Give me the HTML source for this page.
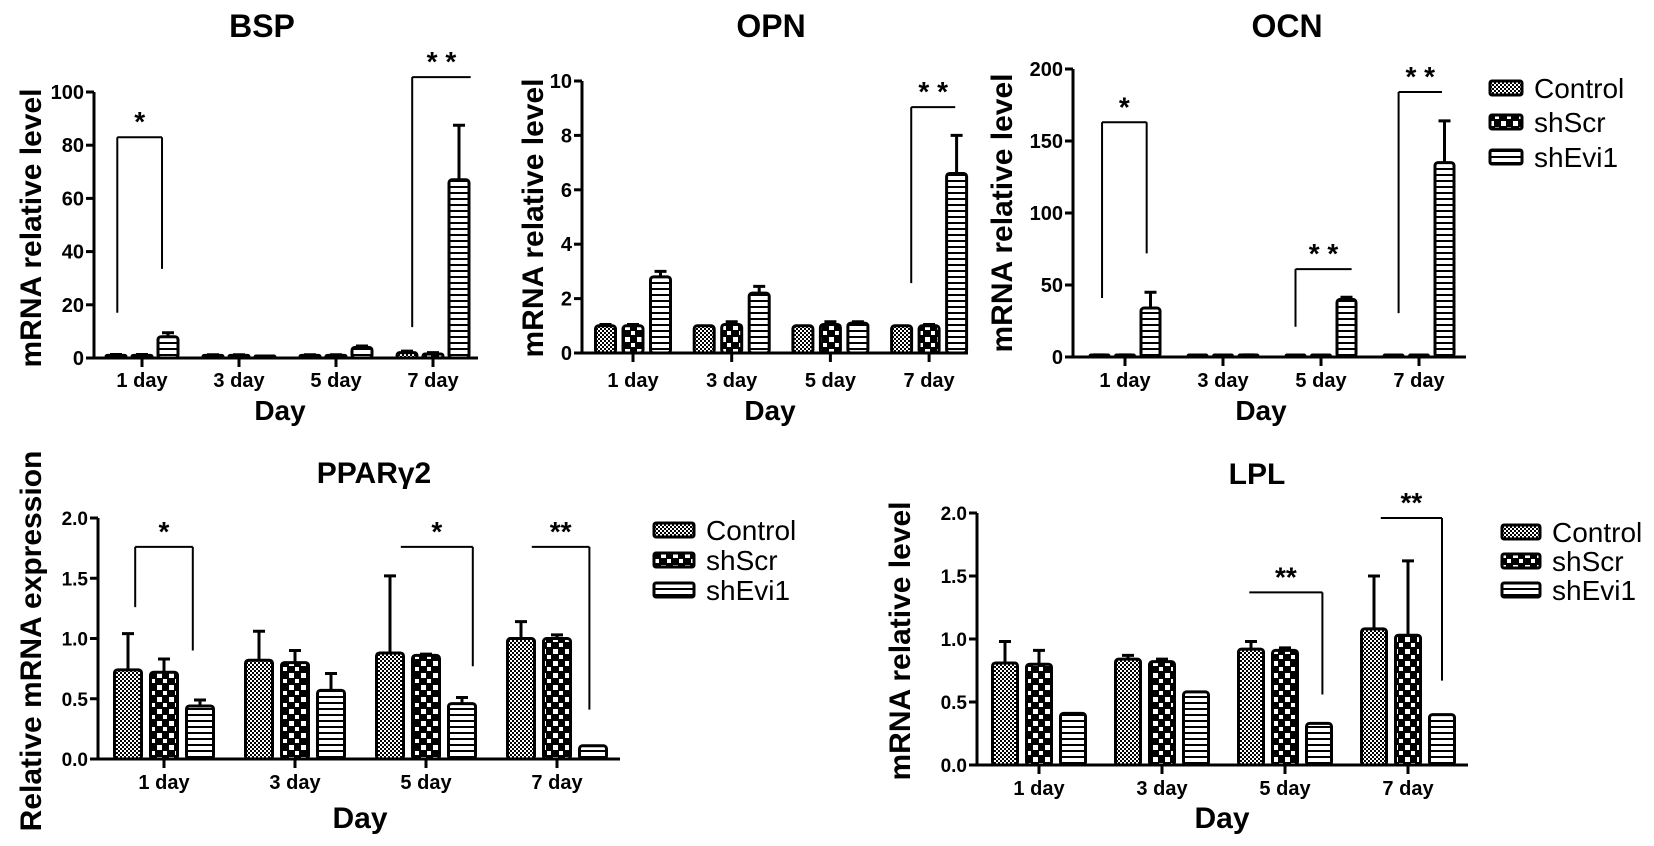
<!DOCTYPE html>
<html><head><meta charset="utf-8">
<style>
html,body{margin:0;padding:0;background:#fff;}
svg{display:block;font-family:"Liberation Sans",Arial,sans-serif;}
</style></head>
<body>
<svg id="fig" width="1654" height="846" viewBox="0 0 1654 846" xmlns="http://www.w3.org/2000/svg">
<defs>
<pattern id="pCtrl" width="4" height="4" patternUnits="userSpaceOnUse">
<rect width="4" height="4" fill="#fff"/><rect width="2" height="2" fill="#000"/><rect x="2" y="2" width="2" height="2" fill="#000"/>
</pattern>
<pattern id="pScr" width="12" height="12" patternUnits="userSpaceOnUse">
<rect width="12" height="12" fill="#000"/><rect x="1" y="1" width="5" height="5" fill="#fff"/><rect x="7" y="7" width="4" height="4" fill="#fff"/>
</pattern>
<pattern id="pEvi" width="6" height="6" patternUnits="userSpaceOnUse">
<rect width="6" height="6" fill="#fff"/><rect y="0" width="6" height="2" fill="#000"/>
</pattern>
</defs>
</svg>
<script>
// ---- data ----
const categories = ["1 day","3 day","5 day","7 day"];
const seriesNames = ["Control","shScr","shEvi1"];

const bspControl = [1,1,1,2];
const bspShScr = [1,1,1,1.5];
const bspShEvi1 = [8,0.5,4,67];
const bspErrControl = [0.3,0.2,0.2,0.6];
const bspErrShScr = [0.3,0.2,0.2,0.5];
const bspErrShEvi1 = [1.5,0.1,0.5,20.5];
const bspTicks = [0,20,40,60,80,100];

const opnControl = [1,1,1,1];
const opnShScr = [1,1.05,1.05,1];
const opnShEvi1 = [2.8,2.2,1.1,6.6];
const opnErrControl = [0.05,0,0,0];
const opnErrShScr = [0.05,0.1,0.1,0.05];
const opnErrShEvi1 = [0.2,0.25,0.05,1.4];
const opnTicks = [0,2,4,6,8,10];

const ocnControl = [1,0.5,0.5,0.5];
const ocnShScr = [1,0.5,0.5,0.5];
const ocnShEvi1 = [34,1,40,135];
const ocnErrControl = [0.5,0,0,0];
const ocnErrShScr = [0.5,0,0,0];
const ocnErrShEvi1 = [11,0.5,1.5,29];
const ocnTicks = [0,50,100,150,200];

const pparControl = [0.74,0.82,0.88,1.0];
const pparShScr = [0.72,0.8,0.86,1.0];
const pparShEvi1 = [0.44,0.57,0.46,0.11];
const pparErrControl = [0.3,0.24,0.64,0.14];
const pparErrShScr = [0.11,0.1,0.01,0.03];
const pparErrShEvi1 = [0.05,0.14,0.05,0];
const pparTicks = ["0.0","0.5","1.0","1.5","2.0"];

const lplControl = [0.81,0.84,0.92,1.08];
const lplShScr = [0.80,0.82,0.91,1.03];
const lplShEvi1 = [0.41,0.58,0.33,0.40];
const lplErrControl = [0.17,0.03,0.06,0.42];
const lplErrShScr = [0.11,0.02,0.02,0.59];
const lplErrShEvi1 = [0,0,0,0];
const lplTicks = ["0.0","0.5","1.0","1.5","2.0"];

// significance brackets: group, left bar-index, right bar-index, y (data), left leg end, right leg end, label
const bspSig = [[0,0.05,1.77,83,17,33.5,"*"],[3,0.2,2.45,105.6,11.6,null,"* *"]];
const opnSig = [[3,0.35,1.95,9.04,2.57,null,"* *"]];
const ocnSig = [[0,0.1,1.85,163,41,72,"*"],[2,0,2.2,61,21,null,"* *"],[3,0.2,1.9,184,30.5,null,"* *"]];
const pparSig = [[0,0.2,1.8,1.76,1.26,0.9,"*"],[2,0.3,2.3,1.76,null,0.77,"*"],[3,0.3,1.9,1.76,null,0.41,"**"]];
const lplSig = [[2,-0.05,2.1,1.37,null,0.56,"**"],[3,0.2,2.0,1.96,null,0.67,"**"]];

// ---- drawing ----
const NS="http://www.w3.org/2000/svg";
const svg=document.getElementById('fig');
const fills=["url(#pCtrl)","url(#pScr)","url(#pEvi)"];
function mk(tag,attrs,parent){const e=document.createElementNS(NS,tag);for(const k in attrs)e.setAttribute(k,attrs[k]);(parent||svg).appendChild(e);return e;}
function txt(s,attrs,parent){const e=mk('text',attrs,parent);e.textContent=s;return e;}

function panel(p){
  const g=mk('g',{});
  
  
  const yMax=+p.ticks[p.ticks.length-1];
  const yS=v=>p.y0-(v/yMax)*(p.y0-p.yTop);
  const gX=i=>p.first+i*p.spacing;
  const bX=(i,s)=>gX(i)+(s-1)*p.pitch;
  const t=txt(p.title,{x:p.titleX,y:p.titleY,'font-size':p.titleSize,'font-weight':'bold','text-anchor':'middle'},g);
  
  
  const vals=[p.s0,p.s1,p.s2], errs=[p.e0,p.e1,p.e2];
  for(let s=0;s<3;s++){
    for(let i=0;i<categories.length;i++){
      const cx=bX(i,s), top=yS(vals[s][i]), et=yS(vals[s][i]+errs[s][i]);
      if(errs[s][i]>0){
        const el=mk('path',{d:`M${cx},${top}V${et}M${cx-6},${et}H${cx+6}`,stroke:'#000','stroke-width':3,fill:'none'},g);
        
        
      }
      const h=Math.max(p.y0-top,2);
      const r=mk('rect',{x:cx-p.barW/2,y:p.y0-h,width:p.barW,height:h,rx:Math.min(3,h/2),fill:fills[s],stroke:'#000','stroke-width':3},g);
      
      
    }
  }
  const ax=mk('path',{d:`M${p.axisX},${p.yTop}V${p.y0}H${p.xEnd}`,stroke:'#000','stroke-width':3,fill:'none'},g);
  
  
  p.ticks.forEach(tv=>{
    const y=yS(+tv);
    mk('line',{x1:p.axisX-8,x2:p.axisX,y1:y,y2:y,stroke:'#000','stroke-width':3},g);
    const l=txt(String(tv),{x:p.axisX-10,y:y+7,'font-size':p.tickSize,'font-weight':'bold','text-anchor':'end'},g);
    
    
  });
  categories.forEach((c,i)=>{
    mk('line',{x1:gX(i),x2:gX(i),y1:p.y0,y2:p.y0+9,stroke:'#000','stroke-width':3},g);
    const l=txt(c,{x:gX(i),y:p.catY,'font-size':p.catSize,'font-weight':'bold','text-anchor':'middle'},g);
    
    
  });
  const xt=txt('Day',{x:p.dayX,y:p.dayY,'font-size':p.daySize,'font-weight':'bold','text-anchor':'middle'},g);
  
  
  const yt=txt(p.ylabel,{x:0,y:0,'font-size':30,'font-weight':'bold','text-anchor':'middle',transform:`translate(${p.ylX},${p.ylY}) rotate(-90)`},g);
  
  
  p.sig.forEach(sg=>{
    const xl=bX(sg[0],0)+sg[1]*p.pitch, xr=bX(sg[0],0)+sg[2]*p.pitch, y=yS(sg[3]);
    let d=`M${xl},${y}H${xr}`;
    if(sg[4]!==null)d+=`M${xl},${y}V${yS(sg[4])}`;
    if(sg[5]!==null)d+=`M${xr},${y}V${yS(sg[5])}`;
    const b=mk('path',{d:d,stroke:'#000','stroke-width':2,fill:'none'},g);
    
    
    const s=txt(sg[6],{x:(xl+xr)/2,y:y-6,'font-size':28,'font-weight':'bold','text-anchor':'middle'},g);
    
    
  });
  if(p.legX){
    seriesNames.forEach((n,k)=>{
      const cy=p.legY[k];
      const lb=mk('rect',{x:p.legX,y:cy-7,width:p.legW,height:14,rx:2,fill:fills[k],stroke:'#000','stroke-width':3},g);
      
      
      const lt=txt(n,{x:p.legX+p.legW+12,y:cy+10,'font-size':28},g);
      
      
    });
  }
}

panel({name:'bsp',title:'BSP',titleX:262,titleY:37,titleSize:32,s0:bspControl,s1:bspShScr,s2:bspShEvi1,e0:bspErrControl,e1:bspErrShScr,e2:bspErrShEvi1,ticks:bspTicks,
  axisX:94,y0:358,yTop:92,xEnd:478,first:142,spacing:97,barW:20,pitch:26,tickSize:20,catY:387,catSize:20,dayX:280,dayY:420,daySize:28,
  ylabel:'mRNA relative level',ylX:41,ylY:228,sig:bspSig});
panel({name:'opn',title:'OPN',titleX:771,titleY:37,titleSize:32,s0:opnControl,s1:opnShScr,s2:opnShEvi1,e0:opnErrControl,e1:opnErrShScr,e2:opnErrShEvi1,ticks:opnTicks,
  axisX:582,y0:353,yTop:81,xEnd:968,first:633,spacing:98.7,barW:20,pitch:27.5,tickSize:20,catY:387,catSize:20,dayX:770,dayY:420,daySize:28,
  ylabel:'mRNA relative level',ylX:543,ylY:218,sig:opnSig});
panel({name:'ocn',title:'OCN',titleX:1287,titleY:37,titleSize:32,s0:ocnControl,s1:ocnShScr,s2:ocnShEvi1,e0:ocnErrControl,e1:ocnErrShScr,e2:ocnErrShEvi1,ticks:ocnTicks,
  axisX:1073,y0:357,yTop:69,xEnd:1466,first:1125,spacing:98,barW:19,pitch:25.5,tickSize:20,catY:387,catSize:20,dayX:1261,dayY:420,daySize:28,
  ylabel:'mRNA relative level',ylX:1012,ylY:213,sig:ocnSig,legX:1490,legW:32,legY:[88,122,157]});
panel({name:'ppar-gamma2',title:'PPARγ2',titleX:374,titleY:483,titleSize:30,s0:pparControl,s1:pparShScr,s2:pparShEvi1,e0:pparErrControl,e1:pparErrShScr,e2:pparErrShEvi1,ticks:pparTicks,
  axisX:98,y0:759,yTop:518,xEnd:620,first:164,spacing:131,barW:27,pitch:36,tickSize:19,catY:789,catSize:20,dayX:360,dayY:828,daySize:30,
  ylabel:'Relative mRNA expression',ylX:41,ylY:641,sig:pparSig,legX:654,legW:40,legY:[530,560,590]});
panel({name:'lpl',title:'LPL',titleX:1257,titleY:484,titleSize:30,s0:lplControl,s1:lplShScr,s2:lplShEvi1,e0:lplErrControl,e1:lplErrShScr,e2:lplErrShEvi1,ticks:lplTicks,
  axisX:977,y0:765,yTop:513,xEnd:1468,first:1039,spacing:123,barW:25,pitch:34,tickSize:19,catY:795,catSize:20,dayX:1222,dayY:828,daySize:30,
  ylabel:'mRNA relative level',ylX:910,ylY:641,sig:lplSig,legX:1502,legW:38,legY:[532,561,590]});
</script>
</body></html>
